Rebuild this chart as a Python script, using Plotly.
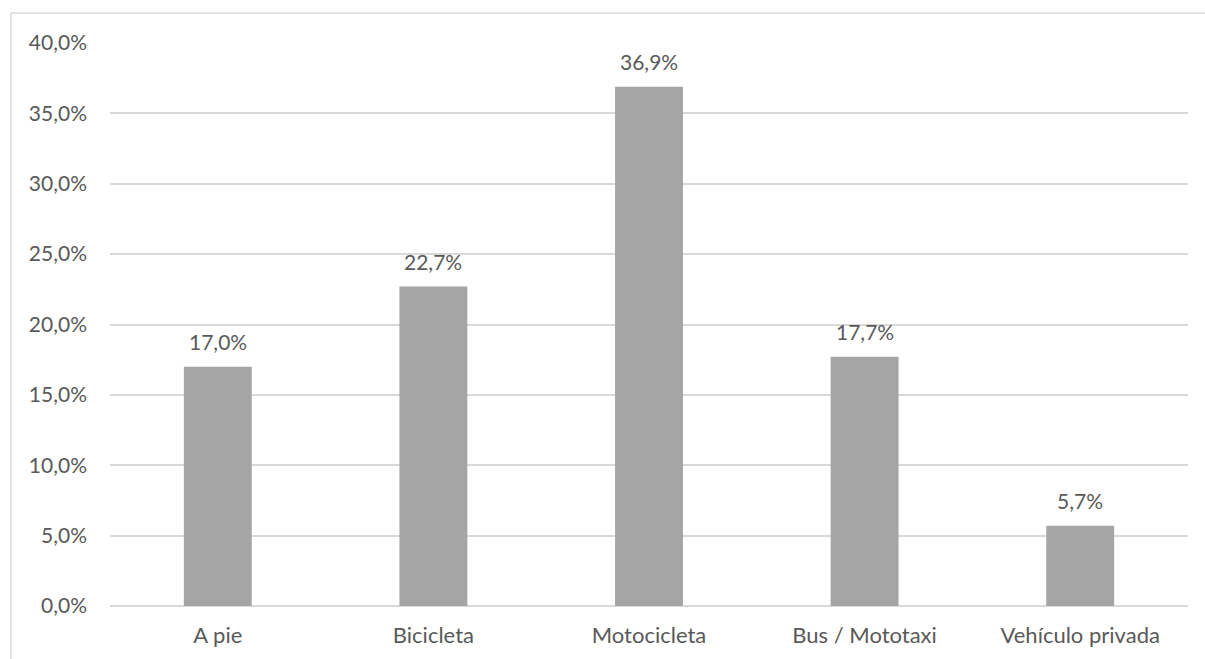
import plotly.graph_objects as go

# Modo de transporte y porcentaje de personas
categorias = ["A pie", "Bicicleta", "Motocicleta", "Bus / Mototaxi", "Vehículo privada"]
porcentajes = [17.0, 22.7, 36.9, 17.7, 5.7]
ticks_y = [0, 5, 10, 15, 20, 25, 30, 35, 40]

W, H = 1205, 659
L, R, T, B = 110, 17, 43, 53
plot_w = W - L - R
plot_h = H - T - B

TEXT = "#595959"
GRID = "#D9D9D9"
BAR = "#A5A5A5"
FONT = "Lato"
NUM_SIZE = 21
CAT_SIZE = 22


def fmt(v):
    return f"{v:.1f}".replace(".", ",") + "%"


fig = go.Figure(
    go.Bar(
        x=categorias,
        y=porcentajes,
        marker=dict(color=BAR, line=dict(width=0)),
        width=0.315,
        hoverinfo="skip",
    )
)

# Etiquetas de datos sobre cada barra
for c, v in zip(categorias, porcentajes):
    fig.add_annotation(
        x=c, y=v, text=fmt(v), showarrow=False,
        yanchor="middle", yshift=25,
        font=dict(family=FONT, size=NUM_SIZE, color=TEXT),
    )


def px_to_paper_x(px):
    return (px - L) / plot_w


def px_to_paper_y(py):
    return (H - B - py) / plot_h


# Borde del área del gráfico (izquierda y arriba)
fig.add_shape(
    type="line", xref="paper", yref="paper",
    x0=px_to_paper_x(11), y0=px_to_paper_y(H + 5),
    x1=px_to_paper_x(11), y1=px_to_paper_y(13),
    line=dict(color=GRID, width=1.5),
)
fig.add_shape(
    type="line", xref="paper", yref="paper",
    x0=px_to_paper_x(11), y0=px_to_paper_y(13),
    x1=px_to_paper_x(W + 5), y1=px_to_paper_y(13),
    line=dict(color=GRID, width=1.5),
)

fig.update_layout(
    width=W, height=H,
    margin=dict(l=L, r=R, t=T, b=B, pad=0),
    paper_bgcolor="white", plot_bgcolor="white",
    separators=",.",
    showlegend=False,
    bargap=0.685,
    font=dict(family=FONT, size=NUM_SIZE, color=TEXT),
    xaxis=dict(
        showgrid=False, showline=False, zeroline=False,
        ticks="", ticklabelstandoff=14,
        tickfont=dict(family=FONT, size=CAT_SIZE, color=TEXT),
    ),
    yaxis=dict(
        range=[0, 40],
        tickvals=ticks_y,
        ticktext=[fmt(t) for t in ticks_y],
        showgrid=True, gridcolor=GRID, gridwidth=1.5,
        zeroline=True, zerolinecolor=GRID, zerolinewidth=1.5,
        showline=False, ticks="", ticklabelstandoff=22,
        tickfont=dict(family=FONT, size=NUM_SIZE, color=TEXT),
    ),
)

fig.write_html("out.html")
